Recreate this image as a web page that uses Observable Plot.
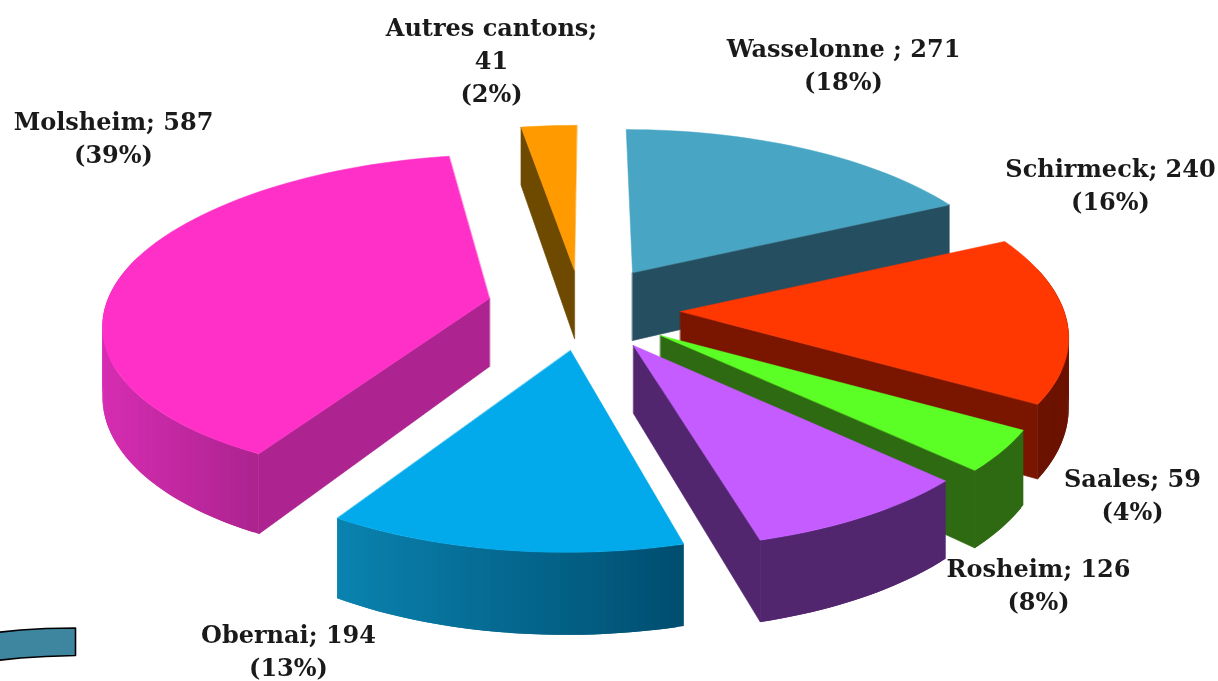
<!DOCTYPE html>
<html>
<head>
<meta charset="utf-8">
<style>
html,body{margin:0;padding:0;background:#fff;overflow:hidden}
svg{display:block}
</style>
<script src="https://cdn.jsdelivr.net/npm/d3@7"></script>
<script src="https://cdn.jsdelivr.net/npm/@observablehq/plot@0.6"></script>
</head>
<body>
<div id="chart"></div>
<script>
// Data
const cantons = ["Wasselonne","Schirmeck","Saales","Rosheim","Obernai","Molsheim","Autres cantons"];
const counts  = [271,240,59,126,194,587,41];
const labels  = ["Wasselonne ; 271\n(18%)","Schirmeck; 240\n(16%)","Saales; 59\n(4%)","Rosheim; 126\n(8%)","Obernai; 194\n(13%)","Molsheim; 587\n(39%)","Autres cantons;\n41\n(2%)"];

// Styles per slice
const topColors   = ["#48a6c4","#ff3700","#5cff25","#c45cff","#02aaeb","#ff30c8","#ff9a00"];
const cutColors   = ["#254f60","#7a1500","#2e6a12","#52266f","#0a83b0","#ad2390","#6e4a00"];
const rimFrom     = ["#254f60","#6c1200","#2e6a12","#52266f","#0a83b0","#ad2390","#6e4a00"];
const rimTo       = ["#254f60","#6c1200","#2e6a12","#52266f","#004e70","#d62db2","#6e4a00"];
const apexX = [632,680,660,633,570,489,574];
const apexY = [272,311,335,345,350,298,270];
const rad0  = [382,395,378,380,378,350,388];
const rad1  = [382,370,378,380,378,385,388];
const radBlend = [1,1,1,1,1,0.6,1];
const labelX = [843,1110,1132,1038,288,113,491];
const labelY = [48,168,478,568,634,121,27];
const drawOrder = [6,0,1,2,3,5,4];

// Projection parameters
const persp = 0.176, tilt = 0.44, depth = 68, vanishX = 590;
const total = d3.sum(counts);
const deg = Math.PI / 180;
let acc = 0;
const slices = counts.map((c,i) => {
  const a0 = acc / total * 360; acc += c; const a1 = acc / total * 360;
  return {i, a0, a1};
});
function pt(i, a, z) {
  const t = a * deg, s = 1 / (1 + persp * Math.cos(t));
  const sl = slices[i];
  const f = Math.min(1, (a - sl.a0) / ((sl.a1 - sl.a0) * radBlend[i]));
  const R = rad0[i] + (rad1[i] - rad0[i]) * (radBlend[i] < 1 ? Math.sin(f * Math.PI / 2) : f);
  return {
    x: apexX[i] + R * s * Math.sin(t) + (vanishX - apexX[i]) * (1 - s),
    y: apexY[i] - R * tilt * s * Math.cos(t) + z * s
  };
}
const apex = (i,z) => ({x: apexX[i], y: apexY[i] + z});
const poly = (pts, color, sw=0.7) => Plot.line(pts, {x:"x", y:"y", fill:color, stroke:color, strokeWidth:sw, curve:"linear-closed"});

const marks = [];
for (const k of drawOrder) {
  const {i,a0,a1} = slices[k];
  // visible cut faces
  if (a1 < 180) marks.push(poly([apex(i,0),pt(i,a1,0),pt(i,a1,depth),apex(i,depth)], cutColors[i]));
  if (a0 > 180) marks.push(poly([apex(i,0),pt(i,a0,0),pt(i,a0,depth),apex(i,depth)], cutColors[i]));
  // outer rim: overlapping strips, the top face drawn afterwards hides what lies behind the silhouette
  const r0 = Math.max(a0, 75), r1 = Math.min(a1, 285);
  if (r1 > r0) {
    const n = Math.ceil(r1 - r0);
    const at = j => r0 + (r1 - r0) * Math.min(j, n) / n;
    const col = d3.interpolateRgb(rimFrom[i], rimTo[i]);
    const span = d3.extent(d3.range(n + 1), j => pt(i, at(j), 0).x);
    for (let j = 0; j < n; j++) {
      const q = [pt(i,at(j),0), pt(i,at(j+2),0), pt(i,at(j+2),depth), pt(i,at(j),depth)];
      const f = (span[1] - q[0].x) / (span[1] - span[0]);
      marks.push(Plot.line(q, {x:"x", y:"y", fill: i === 4 ? col(1-f) : col(f), curve:"linear-closed"}));
    }
  }
  // top face
  const top = [apex(i,0)];
  const n = Math.ceil((a1-a0)/2);
  for (let j = 0; j <= n; j++) top.push(pt(i, a0 + (a1-a0)*j/n, 0));
  marks.push(poly(top, topColors[i], 0.5));
}

// Decorative ribbon at lower left
const ribbonX = [-4,20,45,75,75,45,20,-4];
const ribbonY = [632,629.5,628,627.5,655,656,657.5,660];
const ribbon = ribbonX.map((x,j) => ({x, y: ribbonY[j]}));
marks.push(Plot.line(ribbon, {x:"x", y:"y", fill:"#3e869f", stroke:"#000", strokeWidth:1.6, curve:"linear-closed"}));

// Labels
const labelRows = labels.map((t,i) => ({t, x:labelX[i], y:labelY[i] - 15}));
marks.push(Plot.text(labelRows, {
  x:"x", y:"y", text:"t", lineAnchor:"top", textAnchor:"middle", lineHeight:1.38,
  fontFamily:"'DejaVu Serif',serif", fontWeight:"bold", fontSize:24, fill:"#1a1a1a"
}));

const chart = Plot.plot({
  width:1218, height:681, margin:0,
  style:{background:"#fff", overflow:"hidden"},
  x:{domain:[0,1218], range:[0,1218], axis:null},
  y:{domain:[0,681], range:[0,681], axis:null},
  marks
});
d3.select(chart).selectAll("text").style("filter","blur(0.35px)");
document.getElementById("chart").appendChild(chart);
</script>
</body>
</html>
